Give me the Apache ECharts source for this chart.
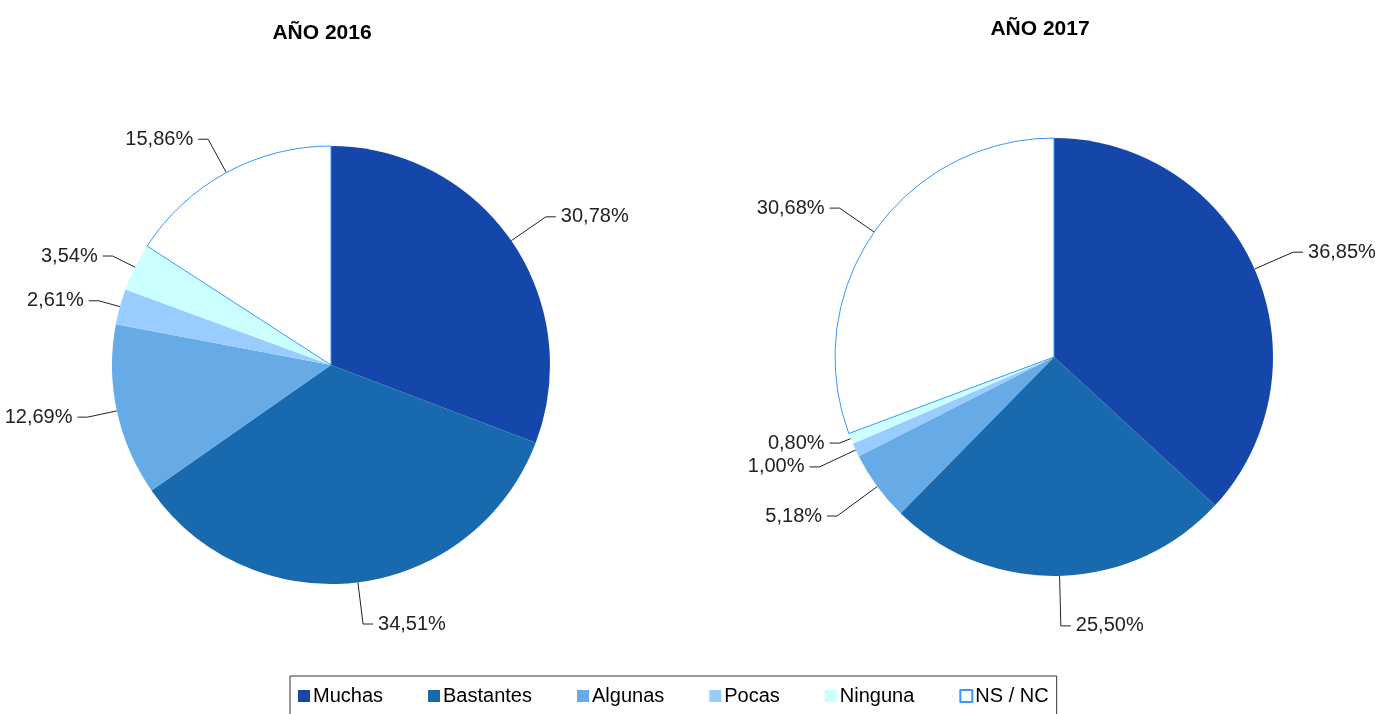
<!DOCTYPE html>
<html>
<head>
<meta charset="utf-8">
<script src="https://cdn.jsdelivr.net/npm/echarts@6/dist/echarts.min.js"></script>
<style>
html, body { margin: 0; padding: 0; background: #fff; }
#main { width: 1385px; height: 714px; }
</style>
</head>
<body>
<div id="main"></div>
<script>
var categorias = ['Muchas', 'Bastantes', 'Algunas', 'Pocas', 'Ninguna', 'NS / NC'];
var colores = ['#1547aa', '#1869ad', '#66aae6', '#99ccff', '#ccffff', '#ffffff'];
var valores2016 = [30.78, 34.51, 12.69, 2.61, 3.54, 15.86];
var valores2017 = [36.85, 25.50, 5.18, 1.00, 0.80, 30.68];
var titulos = ['AÑO 2016', 'AÑO 2017'];
// largo de la primera linea de cada etiqueta
var lineas2016 = [42, 42, 30, 22, 25, 38];
var lineas2017 = [42, 50, 50, 40, 12, 42];

var dom = document.getElementById('main');
var myChart = echarts.init(dom);

function datos(valores, lineas) {
    return valores.map(function (v, i) {
        var item = {
            name: categorias[i],
            value: v,
            itemStyle: {color: colores[i]},
            labelLine: {length: lineas[i]}
        };
        if (i === 5) {
            item.itemStyle.borderColor = '#3399ff';
            item.itemStyle.borderWidth = 1;
        }
        return item;
    });
}

function etiqueta(p) {
    return p.value.toFixed(2).replace('.', ',') + '%';
}

function serie(valores, lineas, centro) {
    return {
        type: 'pie',
        center: centro,
        radius: 219,
        startAngle: 90,
        clockwise: true,
        avoidLabelOverlap: true,
        data: datos(valores, lineas),
        label: {
            show: true,
            position: 'outside',
            formatter: etiqueta,
            color: '#222',
            fontFamily: 'Liberation Sans',
            fontSize: 20,
            overflow: 'none'
        },
        labelLine: {
            show: true,
            length2: 10,
            lineStyle: {color: '#222', width: 1}
        },
        emphasis: {disabled: true}
    };
}

option = {
    backgroundColor: '#fff',
    animation: false,
    title: [{
        text: titulos[0],
        left: 317,
        top: 18,
        textAlign: 'center',
        textStyle: {fontFamily: 'Liberation Sans', fontWeight: 'bold', fontSize: 21, color: '#000'}
    }, {
        text: titulos[1],
        left: 1035,
        top: 14,
        textAlign: 'center',
        textStyle: {fontFamily: 'Liberation Sans', fontWeight: 'bold', fontSize: 21, color: '#000'}
    }],
    legend: {
        data: categorias,
        left: 290,
        top: 676,
        orient: 'horizontal',
        icon: 'rect',
        itemWidth: 12,
        itemHeight: 12,
        itemGap: 45,
        padding: [10, 8, 14, 8],
        borderColor: '#333',
        borderWidth: 1,
        selectedMode: false,
        textStyle: {fontFamily: 'Liberation Sans', fontSize: 20, color: '#000', padding: [0, 0, 0, -2]}
    },
    series: [
        serie(valores2016, lineas2016, [331, 365]),
        serie(valores2017, lineas2017, [1054, 357])
    ]
};

if (option && typeof option === 'object') {
    myChart.setOption(option, true);
}
</script>
</body>
</html>
